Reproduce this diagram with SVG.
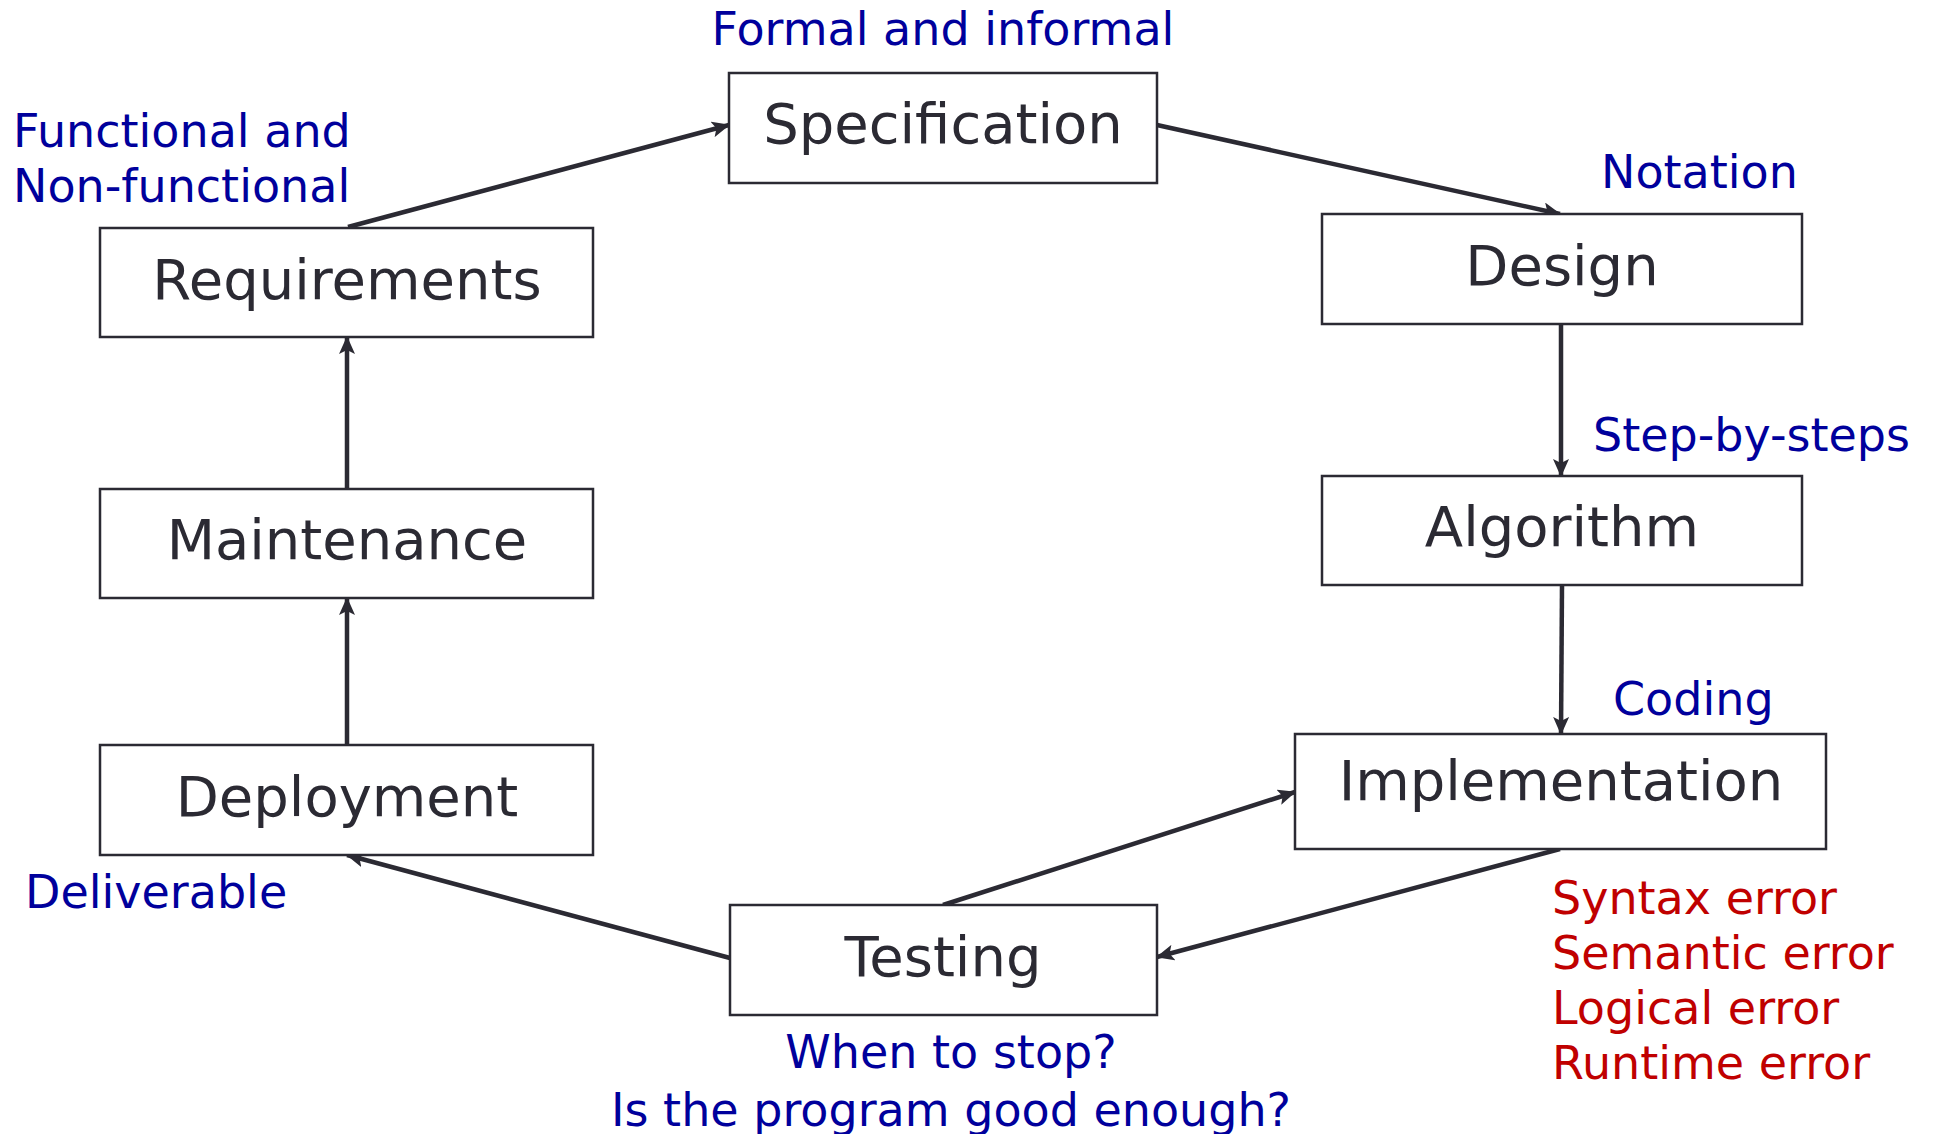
<svg xmlns="http://www.w3.org/2000/svg" width="1942" height="1134" viewBox="0 0 1942 1134">
<defs>
<style>
.box{fill:#ffffff;stroke:#2b2a33;stroke-width:2.5}
.lbl{font-family:"DejaVu Sans",Verdana,sans-serif;font-size:56px;fill:#2b2a33;text-anchor:middle}
.blue{font-family:"DejaVu Sans",Verdana,sans-serif;font-size:46px;fill:#00009c}
.red{font-family:"DejaVu Sans",Verdana,sans-serif;font-size:46px;fill:#c00000}
.edge{stroke:#2b2a33;stroke-width:4.5;fill:none;marker-end:url(#arr)}
</style>
<marker id="arr" markerUnits="userSpaceOnUse" markerWidth="18" markerHeight="16" refX="17" refY="8" orient="auto">
<path d="M0,0 L18,8 L0,16 L4,8 z" fill="#2b2a33"/>
</marker>
</defs>
<rect width="1942" height="1134" fill="#ffffff"/>
<g id="connectors">
<line class="edge" x1="348" y1="227" x2="729" y2="125"/>
<line class="edge" x1="1157" y1="125" x2="1560" y2="214"/>
<line class="edge" x1="1561" y1="324" x2="1561" y2="476"/>
<line class="edge" x1="1562" y1="585" x2="1561" y2="734"/>
<line class="edge" x1="1560" y1="849" x2="1157" y2="957"/>
<line class="edge" x1="943" y1="905" x2="1295" y2="792"/>
<line class="edge" x1="730" y1="958" x2="347" y2="855"/>
<line class="edge" x1="347" y1="745" x2="347" y2="598"/>
<line class="edge" x1="347" y1="489" x2="347" y2="337"/>
</g>
<g id="requirements">
<rect class="box" x="100" y="228" width="493" height="109"/>
<text class="lbl" x="347" y="299">Requirements</text>
</g>
<g id="specification">
<rect class="box" x="729" y="73" width="428" height="110"/>
<text class="lbl" x="943" y="143">Specification</text>
</g>
<g id="design">
<rect class="box" x="1322" y="214" width="480" height="110"/>
<text class="lbl" x="1562" y="285">Design</text>
</g>
<g id="algorithm">
<rect class="box" x="1322" y="476" width="480" height="109"/>
<text class="lbl" x="1562" y="546">Algorithm</text>
</g>
<g id="implementation">
<rect class="box" x="1295" y="734" width="531" height="115"/>
<text class="lbl" x="1561" y="800">Implementation</text>
</g>
<g id="testing">
<rect class="box" x="730" y="905" width="427" height="110"/>
<text class="lbl" x="943" y="976">Testing</text>
</g>
<g id="deployment">
<rect class="box" x="100" y="745" width="493" height="110"/>
<text class="lbl" x="347" y="816">Deployment</text>
</g>
<g id="maintenance">
<rect class="box" x="100" y="489" width="493" height="109"/>
<text class="lbl" x="347" y="559">Maintenance</text>
</g>
<g id="annotations">
<text class="blue" x="13" y="147">Functional and</text>
<text class="blue" x="13" y="202">Non-functional</text>
<text class="blue" x="943" y="45" text-anchor="middle">Formal and informal</text>
<text class="blue" x="1601" y="188">Notation</text>
<text class="blue" x="1593" y="451">Step-by-steps</text>
<text class="blue" x="1613" y="715">Coding</text>
<text class="blue" x="25" y="908">Deliverable</text>
<text class="blue" x="951" y="1068" text-anchor="middle">When to stop?</text>
<text class="blue" x="951" y="1126" text-anchor="middle">Is the program good enough?</text>
<text class="red" x="1552" y="914">Syntax error</text>
<text class="red" x="1552" y="969">Semantic error</text>
<text class="red" x="1552" y="1024">Logical error</text>
<text class="red" x="1552" y="1079">Runtime error</text>
</g>
</svg>
